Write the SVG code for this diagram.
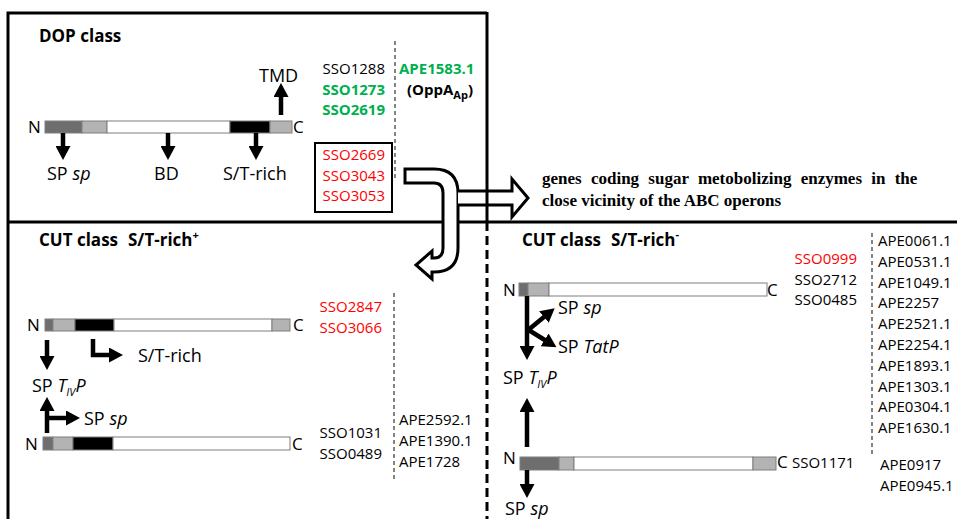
<svg xmlns="http://www.w3.org/2000/svg" width="957" height="519" viewBox="0 0 957 519">
<style>
text{font-family:"Open Sans","Noto Sans","DejaVu Sans",sans-serif;fill:#000}
.id{font-size:15px}
.lab{font-size:18px}
.nc{font-size:17px}
.ttl{font-size:17px;font-weight:bold}
.g{fill:#00b050;font-weight:bold}
.r{fill:#ff0000}
.b{font-weight:bold}
.it{font-style:italic}
.sub{font-size:11px}
.frame{stroke:#000;stroke-width:3;fill:none}
.dash{stroke:#000;stroke-width:3;stroke-dasharray:9 5;fill:none}
.thin{stroke:#333;stroke-width:1.2;stroke-dasharray:4 3;fill:none}
.ar{stroke:#000;stroke-width:4.5;fill:none;marker-end:url(#ah)}
.hollow{stroke:#000;stroke-width:3;fill:#fff;stroke-linejoin:miter}
.dk{fill:#6e6e6e}
.lt{fill:#b3b3b3}
.wh{fill:#fff}
.bk{fill:#000}
.bar rect{stroke:#7f7f7f;stroke-width:1}
.serif{font-family:"Liberation Serif","Times New Roman",serif;font-weight:bold;font-size:17px}
</style>
<defs>
<marker id="ah" viewBox="0 0 14 15" refX="4" refY="7.5" markerWidth="14" markerHeight="15" markerUnits="userSpaceOnUse" orient="auto">
<path d="M0,0 L14,7.5 L0,15 Z" fill="#000"/>
</marker>
</defs>
<rect width="957" height="519" fill="#fff"/>

<g id="frames">
<path class="frame" d="M8,519 V13 H487"/>
<path class="frame" d="M8,222 H957"/>
</g>

<g id="dop-class">
<text class="ttl" x="39" y="42">DOP class</text>
<g class="bar">
<rect class="dk" x="45" y="121" width="37" height="12"/>
<rect class="lt" x="82" y="121" width="25" height="12"/>
<rect class="wh" x="107" y="121" width="123" height="12"/>
<rect class="bk" x="230" y="121" width="40" height="12"/>
<rect class="lt" x="270" y="121" width="22" height="12"/>
</g>
<text class="nc" x="28" y="133">N</text>
<text class="nc" x="293" y="133">C</text>
<text class="lab" x="259" y="82">TMD</text>
<text class="lab" x="47" y="180">SP <tspan class="it">sp</tspan></text>
<text class="lab" x="154" y="180">BD</text>
<text class="lab" x="223" y="180">S/T-rich</text>
<text class="id" x="385" y="74" text-anchor="end">SSO1288</text>
<text class="id g" x="385" y="95" text-anchor="end">SSO1273</text>
<text class="id g" x="385" y="115" text-anchor="end">SSO2619</text>
<text class="id g" x="399" y="74">APE1583.1</text>
<text class="id b" x="407" y="95">(OppA<tspan class="sub" dy="4">Ap</tspan><tspan dy="-4">)</tspan></text>
<line class="thin" x1="395" y1="41" x2="395" y2="178"/>
<rect x="315" y="143" width="77" height="69" fill="none" stroke="#000" stroke-width="2"/>
<text class="id r" x="385" y="160" text-anchor="end">SSO2669</text>
<text class="id r" x="385" y="181" text-anchor="end">SSO3043</text>
<text class="id r" x="385" y="201" text-anchor="end">SSO3053</text>
</g>

<g id="cut-plus">
<text class="ttl" x="39" y="246">CUT class<tspan x="128">S/T-rich</tspan><tspan font-size="11" dy="-7">+</tspan></text>
<g class="bar">
<rect class="dk" x="45" y="319" width="8" height="12"/>
<rect class="lt" x="53" y="319" width="22" height="12"/>
<rect class="bk" x="75" y="319" width="39" height="12"/>
<rect class="wh" x="114" y="319" width="158" height="12"/>
<rect class="lt" x="272" y="319" width="18" height="12"/>
</g>
<text class="nc" x="27" y="331">N</text>
<text class="nc" x="293" y="331">C</text>
<text class="id r" x="382" y="312" text-anchor="end">SSO2847</text>
<text class="id r" x="382" y="333" text-anchor="end">SSO3066</text>
<line class="thin" x1="394" y1="293" x2="394" y2="480"/>
<text class="lab" x="138" y="362">S/T-rich</text>
<text class="lab" x="32" y="392">SP <tspan class="it">T</tspan><tspan class="it sub" dy="4">IV</tspan><tspan class="it" dy="-4">P</tspan></text>
<text class="lab" x="84" y="425">SP <tspan class="it">sp</tspan></text>
<g class="bar">
<rect class="dk" x="43" y="437" width="10" height="13"/>
<rect class="lt" x="53" y="437" width="20" height="13"/>
<rect class="bk" x="73" y="437" width="40" height="13"/>
<rect class="wh" x="113" y="437" width="177" height="13"/>
</g>
<text class="nc" x="25" y="450">N</text>
<text class="nc" x="292" y="450">C</text>
<text class="id" x="382" y="438" text-anchor="end">SSO1031</text>
<text class="id" x="382" y="459" text-anchor="end">SSO0489</text>
<text class="id" x="399" y="425">APE2592.1</text>
<text class="id" x="399" y="446">APE1390.1</text>
<text class="id" x="399" y="467">APE1728</text>
</g>

<g id="cut-minus">
<text class="ttl" x="522" y="246">CUT class<tspan x="611">S/T-rich</tspan><tspan font-size="11" dy="-8">-</tspan></text>
<text class="id r" x="857" y="264" text-anchor="end">SSO0999</text>
<text class="id" x="857" y="285" text-anchor="end">SSO2712</text>
<text class="id" x="857" y="305" text-anchor="end">SSO0485</text>
<line class="thin" x1="872" y1="233" x2="872" y2="457"/>
<text class="id" x="878" y="246">APE0061.1</text>
<text class="id" x="878" y="267">APE0531.1</text>
<text class="id" x="878" y="288">APE1049.1</text>
<text class="id" x="878" y="308">APE2257</text>
<text class="id" x="878" y="329">APE2521.1</text>
<text class="id" x="878" y="350">APE2254.1</text>
<text class="id" x="878" y="371">APE1893.1</text>
<text class="id" x="878" y="392">APE1303.1</text>
<text class="id" x="878" y="412">APE0304.1</text>
<text class="id" x="878" y="433">APE1630.1</text>
<text class="id" x="880" y="470">APE0917</text>
<text class="id" x="880" y="491">APE0945.1</text>
<g class="bar">
<rect class="dk" x="519" y="283" width="9" height="13"/>
<rect class="lt" x="528" y="283" width="21" height="13"/>
<rect class="wh" x="549" y="283" width="218" height="13"/>
</g>
<text class="nc" x="503" y="296">N</text>
<text class="nc" x="767" y="296">C</text>
<text class="lab" x="558" y="314">SP <tspan class="it">sp</tspan></text>
<text class="lab" x="558" y="353">SP <tspan class="it">TatP</tspan></text>
<text class="lab" x="503" y="384">SP <tspan class="it">T</tspan><tspan class="it sub" dy="4">IV</tspan><tspan class="it" dy="-4">P</tspan></text>
<g class="bar">
<rect class="dk" x="520" y="457" width="39" height="13"/>
<rect class="lt" x="559" y="457" width="15" height="13"/>
<rect class="wh" x="574" y="457" width="179" height="13"/>
<rect class="lt" x="753" y="457" width="23" height="13"/>
</g>
<text class="nc" x="503" y="464">N</text>
<text class="nc" x="777" y="468">C</text>
<text class="id" x="792" y="468">SSO1171</text>
<text class="lab" x="505" y="515">SP <tspan class="it">sp</tspan></text>
</g>

<g id="sugar-note">
<text class="serif" x="542" y="184" word-spacing="5">genes coding sugar metobolizing enzymes in the</text>
<text class="serif" x="542" y="206">close vicinity of the ABC operons</text>
</g>

<g id="connectors">
<line class="ar" x1="281" y1="115" x2="281" y2="93"/>
<line class="ar" x1="63" y1="133" x2="63" y2="150"/>
<line class="ar" x1="168" y1="133" x2="168" y2="150"/>
<line class="ar" x1="256" y1="133" x2="256" y2="150"/>
<line class="ar" x1="47" y1="340" x2="47" y2="360"/>
<path class="ar" d="M93,339 V355 H113"/>
<line class="ar" x1="47" y1="433" x2="47" y2="407"/>
<line class="ar" x1="45" y1="418" x2="70" y2="418"/>
<line class="ar" x1="527" y1="296" x2="527" y2="350"/>
<line class="ar" x1="527" y1="331" x2="547" y2="314.5"/>
<line class="ar" x1="527" y1="329" x2="548" y2="342"/>
<line class="ar" x1="527" y1="447" x2="527" y2="408"/>
<line class="ar" x1="527" y1="470" x2="527" y2="488"/>
<path class="hollow" d="M405,169 L434,169 Q458,169 458,193 L458,248 Q458,272 434,272 L432,272 L432,279 L416,265 L432,251 L432,258 L434,258 Q443,258 443,248 L443,193 Q443,183 434,183 L405,183 Z"/>
<path class="hollow" d="M458,191 L512,191 L512,179 L528,198 L512,217 L512,205 L458,205"/>
</g>
<g id="divider">
<line class="frame" x1="487" y1="12" x2="487" y2="222"/>
<line class="dash" x1="487" y1="222" x2="487" y2="519"/>
</g>
</svg>
